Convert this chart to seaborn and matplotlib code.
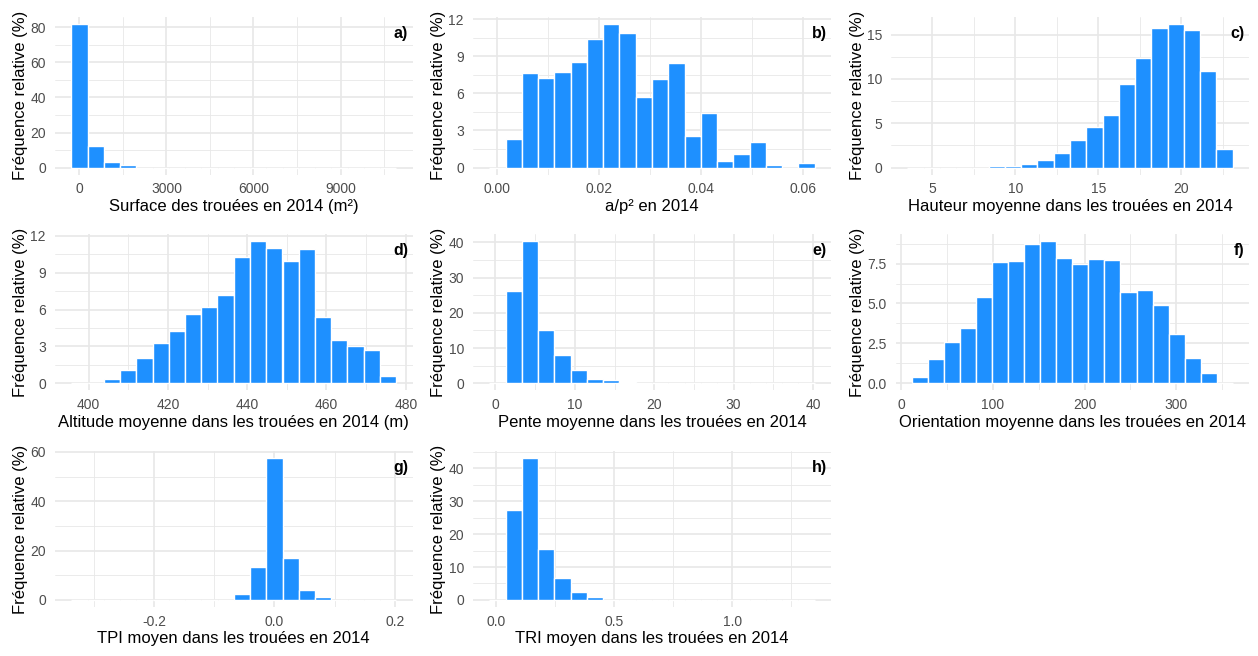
import numpy as np
import pandas as pd
import matplotlib
matplotlib.use("Agg")
import matplotlib.pyplot as plt
import seaborn as sns
from matplotlib.ticker import MultipleLocator

# ---------------- data ----------------
y_title = "Fréquence relative (%)"
panel_tags = ["a)", "b)", "c)", "d)", "e)", "f)", "g)", "h)"]
x_titles = [
    "Surface des trouées en 2014 (m²)",
    "a/p² en 2014",
    "Hauteur moyenne dans les trouées en 2014",
    "Altitude moyenne dans les trouées en 2014 (m)",
    "Pente moyenne dans les trouées en 2014",
    "Orientation moyenne dans les trouées en 2014",
    "TPI moyen dans les trouées en 2014",
    "TRI moyen dans les trouées en 2014",
]

# relative frequency (%) of each of the 20 bins, bin start and bin width
freq_a = [81.9, 12.35, 3.2, 1.3, 0, 0, 0, 0, 0, 0, 0, 0, 0, 0, 0, 0, 0, 0, 0, 0]
start_a, width_a = -280, 560

freq_b = [0, 2.30, 7.67, 7.21, 7.75, 8.56, 10.41, 11.6, 10.89, 5.72, 7.18, 8.48,
          2.57, 4.39, 0.57, 1.11, 2.03, 0.22, 0, 0.38]
start_b, width_b = -0.0016, 0.0032

freq_c = [0, 0, 0, 0, 0, 0.23, 0.23, 0.38, 0.83, 1.62, 3.17, 4.56, 5.99, 9.46,
          12.4, 15.72, 16.2, 15.49, 10.89, 2.15]
start_c, width_c = 3.5, 0.98

freq_d = [0, 0, 0.38, 1.11, 2.06, 3.26, 4.26, 5.65, 6.19, 7.22, 10.26, 11.62,
          11.0, 9.99, 10.97, 5.38, 3.56, 3.07, 2.69, 0.6]
start_d, width_d = 395.6, 4.1

freq_e = [0, 26.04, 40.47, 15.19, 8.02, 3.87, 1.32, 1.04, 0.38, 0, 0, 0, 0, 0,
          0, 0, 0, 0, 0, 0]
start_e, width_e = -0.78, 2.05

freq_f = [0.375, 1.5, 2.56, 3.48, 5.4, 7.6, 7.67, 8.73, 8.94, 7.875, 7.46, 7.79,
          7.73, 5.75, 5.875, 4.9, 3.06, 1.58, 0.65, 0]
start_f, width_f = 11.3, 17.53

freq_g = [0, 0, 0, 0, 0, 0, 0, 0, 0, 0, 2.56, 13.5, 57.5, 17.1, 3.9, 1.2,
          0, 0, 0, 0]
start_g, width_g = -0.3375, 0.027

freq_h = [0, 27.34, 43.14, 15.6, 6.68, 2.33, 0.81, 0, 0, 0, 0, 0, 0, 0, 0, 0,
          0, 0, 0, 0]
start_h, width_h = -0.03, 0.069

xticks = [
    [0, 3000, 6000, 9000],
    [0.00, 0.02, 0.04, 0.06],
    [5, 10, 15, 20],
    [400, 420, 440, 460, 480],
    [0, 10, 20, 30, 40],
    [0, 100, 200, 300],
    [-0.2, 0.0, 0.2],
    [0.0, 0.5, 1.0],
]
xticklabels = [
    ["0", "3000", "6000", "9000"],
    ["0.00", "0.02", "0.04", "0.06"],
    ["5", "10", "15", "20"],
    ["400", "420", "440", "460", "480"],
    ["0", "10", "20", "30", "40"],
    ["0", "100", "200", "300"],
    ["-0.2", "0.0", "0.2"],
    ["0.0", "0.5", "1.0"],
]
yticks = [
    [0, 20, 40, 60, 80],
    [0, 3, 6, 9, 12],
    [0, 5, 10, 15],
    [0, 3, 6, 9, 12],
    [0, 10, 20, 30, 40],
    [0, 2.5, 5.0, 7.5],
    [0, 20, 40, 60],
    [0, 10, 20, 30, 40],
]
yticklabels = [
    ["0", "20", "40", "60", "80"],
    ["0", "3", "6", "9", "12"],
    ["0", "5", "10", "15"],
    ["0", "3", "6", "9", "12"],
    ["0", "10", "20", "30", "40"],
    ["0.0", "2.5", "5.0", "7.5"],
    ["0", "20", "40", "60"],
    ["0", "10", "20", "30", "40"],
]

freqs = [freq_a, freq_b, freq_c, freq_d, freq_e, freq_f, freq_g, freq_h]
starts = [start_a, start_b, start_c, start_d, start_e, start_f, start_g, start_h]
widths = [width_a, width_b, width_c, width_d, width_e, width_f, width_g, width_h]

# ---------------- layout (pixels: left, top, right, bottom) ----------------
W, H = 1258, 656
rects_px = [
    (55, 16.8, 412.5, 174.8),
    (473, 16.8, 831, 174.8),
    (891, 16.8, 1249, 174.8),
    (55, 233.5, 412.5, 390.4),
    (473, 233.5, 831, 390.4),
    (895.6, 233.5, 1249, 390.4),
    (55, 451, 412.5, 607),
    (473, 451, 831, 607),
]

sns.set_theme(style="whitegrid")
plt.rcParams["font.family"] = ["Liberation Sans", "DejaVu Sans"]
plt.rcParams["axes.unicode_minus"] = False

BAR = "#1E90FF"
GRID = "#E8E8E8"
TICKC = "#4D4D4D"

fig = plt.figure(figsize=(W / 100, H / 100), dpi=100)
fig.patch.set_facecolor("white")

for i in range(8):
    l, t, r, b = rects_px[i]
    ax = fig.add_axes([l / W, 1 - b / H, (r - l) / W, (b - t) / H])
    n = len(freqs[i])
    edges = [starts[i] + widths[i] * k for k in range(n + 1)]
    df = pd.DataFrame({
        "x": [(edges[k] + edges[k + 1]) / 2 for k in range(n)],
        "w": [float(v) for v in freqs[i]],
    })
    sns.histplot(data=df, x="x", weights="w", bins=edges, ax=ax,
                 color=BAR, edgecolor="white", linewidth=1.0, alpha=1.0)

    span = edges[-1] - edges[0]
    ax.set_xlim(edges[0] - 0.05 * span, edges[-1] + 0.05 * span)
    ymax = max(freqs[i])
    ax.set_ylim(-0.05 * ymax, 1.05 * ymax)

    ax.set_xticks(xticks[i], xticklabels[i])
    ax.set_yticks(yticks[i], yticklabels[i])
    ax.xaxis.set_minor_locator(MultipleLocator((xticks[i][1] - xticks[i][0]) / 2))
    ax.yaxis.set_minor_locator(MultipleLocator((yticks[i][1] - yticks[i][0]) / 2))

    ax.set_facecolor("white")
    for s in ax.spines.values():
        s.set_visible(False)
    ax.set_axisbelow(True)
    ax.grid(which="major", color=GRID, linewidth=1.2)
    ax.grid(which="minor", color=GRID, linewidth=0.6)
    ax.tick_params(which="both", length=0)
    ax.tick_params(axis="x", labelsize=10, labelcolor=TICKC, pad=5.5)
    ax.tick_params(axis="y", labelsize=10, labelcolor=TICKC, pad=6.5)

    ax.set_xlabel(x_titles[i], fontsize=12, color="black", labelpad=2)
    ax.set_ylabel(y_title, fontsize=12, color="black", labelpad=1.5)

    ax.text(0.988, 0.893, panel_tags[i], transform=ax.transAxes,
            ha="right", va="center", fontsize=11.5, fontweight="bold", color="black")

fig.savefig("out.png", dpi=100, facecolor="white")
